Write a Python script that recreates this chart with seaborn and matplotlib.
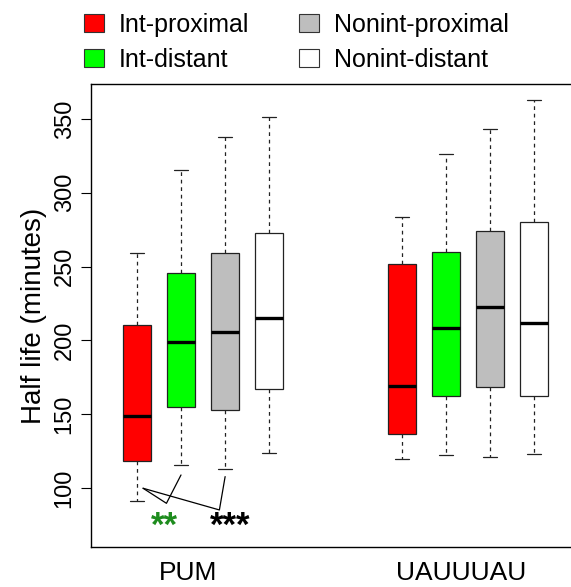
import pandas as pd
import seaborn as sns
from matplotlib import pyplot as plt
from matplotlib.patches import Patch

motifs = ['PUM', 'UAUUUAU']
motif_start = [1, 7]
conditions = ['Int-proximal', 'Int-distant', 'Nonint-proximal', 'Nonint-distant']
colors = ['#ff0000', '#00ff00', '#bebebe', '#ffffff']

# five-number summaries read off the boxes:
# lower whisker, Q1, median, Q3, upper whisker
pum_int_proximal = [91.2, 118.5, 149.0, 210.4, 259.4]
pum_int_distant = [115.3, 155.0, 199.0, 245.7, 315.2]
pum_nonint_proximal = [112.9, 152.8, 206.0, 259.2, 337.6]
pum_nonint_distant = [124.0, 167.0, 215.2, 273.0, 351.6]
uau_int_proximal = [119.4, 136.6, 169.3, 252.0, 283.8]
uau_int_distant = [122.0, 162.6, 208.2, 260.0, 326.5]
uau_nonint_proximal = [121.3, 168.7, 222.4, 273.9, 343.2]
uau_nonint_distant = [122.7, 162.1, 211.6, 280.4, 362.7]

summaries = {
    'PUM': [pum_int_proximal, pum_int_distant, pum_nonint_proximal, pum_nonint_distant],
    'UAUUUAU': [uau_int_proximal, uau_int_distant, uau_nonint_proximal, uau_nonint_distant],
}

# significance brackets (data coords) and star labels
bracket_a_x = [1.14, 1.67, 2.0]
bracket_a_y = [99.8, 89.6, 108.8]
bracket_b_x = [1.14, 2.87, 3.0]
bracket_b_y = [99.8, 85.1, 107.7]
star_labels = ['**', '***']
star_x = [1.63, 3.11]
star_y = [74.0, 74.0]
star_colors = ['#1e8c1e', 'black']

rows = []
for motif, start in zip(motifs, motif_start):
    for i, cond in enumerate(conditions):
        for v in summaries[motif][i]:
            rows.append({'pos': start + i, 'condition': cond, 'half_life': v})
df = pd.DataFrame(rows)

sns.set_theme(style='white')
plt.rcParams['font.family'] = ['Liberation Sans', 'DejaVu Sans']
plt.rcParams['text.color'] = 'black'
plt.rcParams['axes.labelcolor'] = 'black'
plt.rcParams['xtick.color'] = 'black'
plt.rcParams['ytick.color'] = 'black'

fig = plt.figure(figsize=(5.71, 5.87), dpi=100)
ax = fig.add_axes([91 / 571, 40 / 587, 484 / 571, 463 / 587])

sns.boxplot(data=df, x='pos', y='half_life', hue='condition', hue_order=conditions,
            palette=colors, saturation=1, native_scale=True, dodge=False, width=0.63,
            whis=(0, 100), linecolor='#222222', linewidth=0.9, legend=False, ax=ax,
            medianprops={'color': 'black', 'linewidth': 2.4},
            whiskerprops={'linestyle': (0, (3, 3))})

ax.plot(bracket_a_x, bracket_a_y, color='black', lw=0.9)
ax.plot(bracket_b_x, bracket_b_y, color='black', lw=0.9)
for lab, x, y, c in zip(star_labels, star_x, star_y, star_colors):
    ax.text(x, y, lab, color=c, ha='center', va='center', fontsize=25, fontweight='bold')

ax.set_xlim(-0.04, 10.93)
ax.set_ylim(60, 373.7)
ax.set_yticks([100, 150, 200, 250, 300, 350])
ax.set_xticks([2.15, 8.35], motifs)
ax.tick_params(axis='y', direction='out', length=7, width=0.8, pad=4,
               labelsize=17, labelrotation=90, left=True)
ax.tick_params(axis='x', length=0, pad=10, labelsize=19)
for lab in ax.get_yticklabels():
    lab.set_va('center')
ax.set_xlabel('')
ax.set_ylabel('Half life (minutes)', fontsize=20, labelpad=5)
for s in ax.spines.values():
    s.set_color('black')
    s.set_linewidth(1.0)

handles = [Patch(facecolor=c, edgecolor='#333333', linewidth=0.8) for c in colors]
fig.legend(handles, conditions, ncol=2, loc='upper left', bbox_to_anchor=(0.107, 1.017),
           frameon=False, fontsize=18, handlelength=0.8, handleheight=0.75,
           handletextpad=0.6, columnspacing=2.0, labelspacing=0.46)

fig.savefig('out.png', dpi=100)
